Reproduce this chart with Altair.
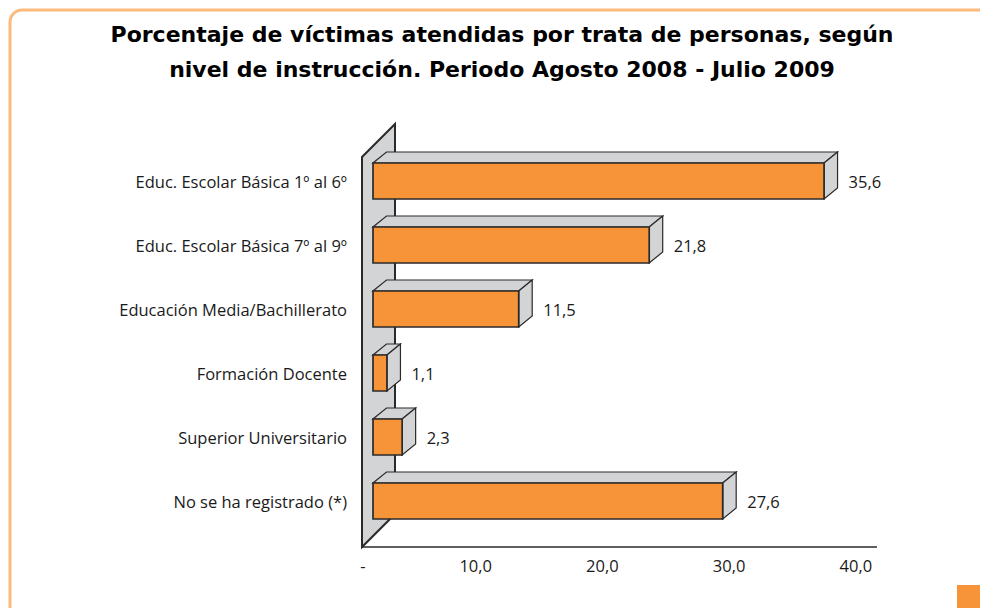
import altair as alt
import pandas as pd

# ---------------- data ----------------
categories = [
    "Educ. Escolar Básica 1º al 6º",
    "Educ. Escolar Básica 7º al 9º",
    "Educación Media/Bachillerato",
    "Formación Docente",
    "Superior Universitario",
    "No se ha registrado (*)",
]
values = [35.6, 21.8, 11.5, 1.1, 2.3, 27.6]
tick_values = [0, 10, 20, 30, 40]
tick_labels = ["-", "10,0", "20,0", "30,0", "40,0"]
title_lines = [
    "Porcentaje de víctimas atendidas por trata de personas, según",
    "nivel de instrucción. Periodo Agosto 2008 - Julio 2009",
]

# ---------------- style / layout constants ----------------
W, H = 972, 505
PAD_TOP = 95
PX_X = 12.67          # pixels per percentage point
PX_Y = 64.0           # pixels per category row
X0_PX = 341           # pixel of value 0 (view coords)
Y0_PX = 78            # pixel of first row centre (view coords)
x_dom = [-X0_PX / PX_X, (W - X0_PX) / PX_X]
y_dom = [-Y0_PX / PX_Y, (H - Y0_PX) / PX_Y]

ORANGE = "#F7943A"
GRAY = "#D3D4D6"
EDGE = "#2A2A2A"
FRAME = "#FBBA7E"
LABEL_FONT = "Open Sans"
TITLE_FONT = "DejaVu Sans"
LABEL_SIZE = 16.5

B = 24 / PX_X          # front-plane offset of bars (3-D depth of the axis plane)
HALF = 18 / PX_Y       # half bar height
DX = 13.5 / PX_X       # bar depth (x)
DY = -11 / PX_Y        # bar depth (y, upward)

xs = alt.Scale(domain=x_dom, nice=False, zero=False)
ys = alt.Scale(domain=y_dom, nice=False, zero=False, reverse=True)

# ---------------- derived tables ----------------
bars = pd.DataFrame({"cat": categories, "v": values})
bars["i"] = range(len(bars))
bars["x0"] = B
bars["x1"] = B + bars["v"]
bars["yt"] = bars["i"] - HALF
bars["yb"] = bars["i"] + HALF
bars["xl"] = bars["x1"] + DX
bars["lab"] = bars["v"].map(lambda v: f"{v:.1f}".replace(".", ","))


def clip01(t):
    return max(0.0, min(1.0, t))


face_rows = []
for _, r in bars.iterrows():
    x0, x1, yt, yb = r.x0, r.x1, r.yt, r.yb
    for x in sorted({x0, x0 + DX, x1, x1 + DX}):
        front = yt + DY * clip01((x - x1) / DX)
        back = yt + DY * clip01((x - x0) / DX)
        face_rows.append({"face": f"top{r.i}", "x": x, "y": front, "y2": back})
    face_rows.append({"face": f"side{r.i}", "x": x1, "y": yt, "y2": yb})
    face_rows.append({"face": f"side{r.i}", "x": x1 + DX, "y": yt + DY, "y2": yb + DY})
faces = pd.DataFrame(face_rows)

# back wall of the 3-D plot (decoration of the category axis)
wall_front_x = 13 / PX_X
wall_back_x = 46 / PX_X
floor_y = len(categories) - 1 + 46 / PX_Y
wall = pd.DataFrame({
    "x": [wall_front_x, wall_back_x],
    "y": [-24 / PX_Y, -57 / PX_Y],
    "y2": [floor_y, floor_y - 33 / PX_Y],
})

ticks = pd.DataFrame({"t": tick_values, "lab": tick_labels})
titles = pd.DataFrame({"line": title_lines, "n": range(len(title_lines))})
one = pd.DataFrame({"a": [0]})

# ---------------- layers ----------------
frame = alt.Chart(one).mark_rect(
    fillOpacity=0, stroke=FRAME, strokeWidth=3, cornerRadius=12
).encode(x=alt.value(2), x2=alt.value(1010), y=alt.value(-93), y2=alt.value(560))

corner = alt.Chart(one).mark_rect(color=ORANGE).encode(
    x=alt.value(949), x2=alt.value(990), y=alt.value(482), y2=alt.value(520)
)

title_l = alt.Chart(titles).mark_text(
    align="center", baseline="alphabetic", font=TITLE_FONT, fontSize=22,
    fontWeight="bold", color="black"
).encode(
    x=alt.value(494),
    y=alt.Y("n:Q", scale=alt.Scale(domain=[0, 1], range=[-61, -26]), axis=None),
    text="line:N",
)

wall_l = alt.Chart(wall).mark_area(
    orient="vertical", fill=GRAY, stroke=EDGE, strokeWidth=2, interpolate="linear"
).encode(
    x=alt.X("x:Q", scale=xs, axis=None),
    y=alt.Y("y:Q", scale=ys, axis=None),
    y2="y2:Q",
)

floor = alt.Chart(one).mark_rule(color=EDGE, strokeWidth=1.5).encode(
    x=alt.value(X0_PX + 13), x2=alt.value(X0_PX + 528), y=alt.value(Y0_PX + 366)
)

faces_l = alt.Chart(faces).mark_area(
    orient="vertical", fill=GRAY, stroke=EDGE, strokeWidth=1.2, interpolate="linear"
).encode(
    x=alt.X("x:Q", scale=xs, axis=None),
    y=alt.Y("y:Q", scale=ys, axis=None),
    y2="y2:Q",
    detail="face:N",
)

front_l = alt.Chart(bars).mark_rect(
    fill=ORANGE, stroke=EDGE, strokeWidth=1.7
).encode(
    x=alt.X("x0:Q", scale=xs, axis=None),
    x2="x1:Q",
    y=alt.Y("yt:Q", scale=ys, axis=None),
    y2="yb:Q",
)

val_l = alt.Chart(bars).mark_text(
    align="left", baseline="middle", dx=11, dy=2, font=LABEL_FONT,
    fontSize=LABEL_SIZE, color="#1a1a1a"
).encode(
    x=alt.X("xl:Q", scale=xs, axis=None),
    y=alt.Y("i:Q", scale=ys, axis=None),
    text="lab:N",
)

cat_l = alt.Chart(bars).mark_text(
    align="right", baseline="middle", dy=2, font=LABEL_FONT,
    fontSize=LABEL_SIZE, color="#1a1a1a"
).encode(
    x=alt.value(339),
    y=alt.Y("i:Q", scale=ys, axis=None),
    text="cat:N",
)

tick_base = alt.Chart(ticks).encode(
    x=alt.X("t:Q", scale=xs, axis=None),
    y=alt.value(Y0_PX + 386),
    text="lab:N",
)
tick_l = tick_base.transform_filter("datum.t != 0").mark_text(
    align="center", baseline="middle", font=LABEL_FONT,
    fontSize=LABEL_SIZE, color="#1a1a1a"
)
tick_zero = tick_base.transform_filter("datum.t == 0").mark_text(
    align="center", baseline="middle", dx=14, font=LABEL_FONT,
    fontSize=LABEL_SIZE, color="#1a1a1a"
)

chart = alt.layer(
    frame, corner, title_l, wall_l, floor, faces_l, front_l, val_l, cat_l,
    tick_l, tick_zero
).resolve_scale(y="independent").properties(
    width=W,
    height=H,
    padding={"left": 0, "top": PAD_TOP, "right": 0, "bottom": 0},
    autosize=alt.AutoSizeParams(type="none"),
).configure_view(stroke=None)

chart.save("out.html", embed_options={"renderer": "svg", "actions": False})
